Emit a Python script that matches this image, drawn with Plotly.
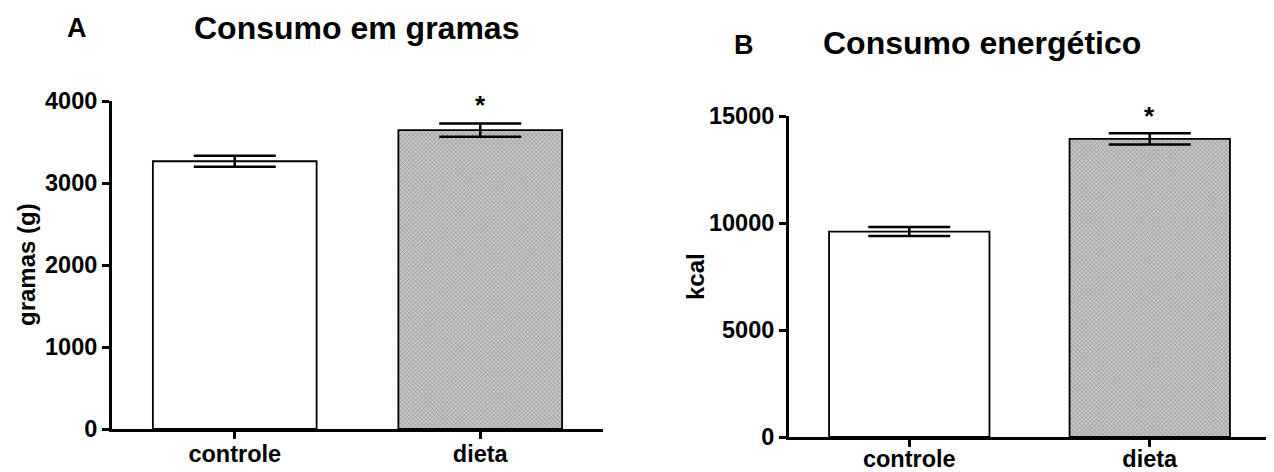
import plotly.graph_objects as go

categories = ["controle", "dieta"]
grams_mean = [3265, 3645]
grams_sem = [67, 80]
kcal_mean = [9600, 13930]
kcal_sem = [210, 260]
signif = ["", "*"]

W, H = 1274, 472
OFF = 8  # page body margin offset
FONT = "Liberation Sans, Arial, sans-serif"

fig = go.Figure()

bar_style = dict(
    marker=dict(
        color=["white", "#c6c6c6"],
        line=dict(color="black", width=1.8),
        pattern=dict(shape=["", "x"], fillmode="overlay", fgcolor="#3a3a3a",
                     fgopacity=0.5, size=3, solidity=0.3),
    ),
    width=0.667,
    showlegend=False,
)

fig.add_trace(go.Bar(
    x=categories, y=grams_mean, xaxis="x", yaxis="y",
    error_y=dict(type="data", array=grams_sem, color="black", thickness=2.5, width=41),
    **bar_style))
fig.add_trace(go.Bar(
    x=categories, y=kcal_mean, xaxis="x2", yaxis="y2",
    error_y=dict(type="data", array=kcal_sem, color="black", thickness=2.5, width=41),
    **bar_style))

def px_x(v):
    return (v - OFF) / W

def px_y(v):
    return 1 - (v - OFF) / H

axis_common = dict(
    showgrid=False, zeroline=False, showline=True, linecolor="black", linewidth=3,
    ticks="outside", tickcolor="black", tickwidth=2.5, ticklen=7, automargin=False,
    tickfont=dict(family=FONT, size=23.5, color="black", weight="bold"),
)

fig.update_layout(
    template="none",
    width=W, height=H,
    margin=dict(l=0, r=0, t=0, b=0),
    paper_bgcolor="white", plot_bgcolor="white",
    xaxis=dict(domain=[px_x(112), px_x(603)], anchor="y", range=[-0.5, 1.5],
               ticklabelstandoff=-5, **axis_common),
    yaxis=dict(domain=[px_y(429), px_y(101)], anchor="x", range=[0, 4000],
               tickvals=[0, 1000, 2000, 3000, 4000], tickformat="d",
               **axis_common),
    xaxis2=dict(domain=[px_x(789), px_x(1270)], anchor="y2", range=[-0.5, 1.5],
                ticklabelstandoff=-8, **axis_common),
    yaxis2=dict(domain=[px_y(437), px_y(116)], anchor="x2", range=[0, 15000],
                tickvals=[0, 5000, 10000, 15000], tickformat="d",
                **axis_common),
)

annotations = []
for cat, m, e, s in zip(categories, grams_mean, grams_sem, signif):
    if s:
        annotations.append(dict(x=cat, y=m + e, xref="x", yref="y", text=s, showarrow=False,
                                yanchor="bottom", yshift=2,
                                font=dict(family=FONT, size=26, color="black", weight="bold")))
for cat, m, e, s in zip(categories, kcal_mean, kcal_sem, signif):
    if s:
        annotations.append(dict(x=cat, y=m + e, xref="x2", yref="y2", text=s, showarrow=False,
                                yanchor="bottom", yshift=0,
                                font=dict(family=FONT, size=26, color="black", weight="bold")))

annotations += [
    dict(x=px_x(26), y=px_y(265), xref="paper", yref="paper", text="gramas (g)",
         showarrow=False, textangle=-90, xanchor="center", yanchor="middle",
         font=dict(family=FONT, size=24, color="black", weight="bold")),
    dict(x=px_x(695), y=px_y(277), xref="paper", yref="paper", text="kcal",
         showarrow=False, textangle=-90, xanchor="center", yanchor="middle",
         font=dict(family=FONT, size=24, color="black", weight="bold")),
    dict(x=px_x(77), y=px_y(28), xref="paper", yref="paper", text="A", showarrow=False,
         xanchor="center", yanchor="middle",
         font=dict(family=FONT, size=27, color="black", weight="bold")),
    dict(x=px_x(356), y=px_y(28), xref="paper", yref="paper", text="Consumo em gramas",
         showarrow=False, xanchor="center", yanchor="middle",
         font=dict(family=FONT, size=32, color="black", weight="bold")),
    dict(x=px_x(744), y=px_y(45), xref="paper", yref="paper", text="B", showarrow=False,
         xanchor="center", yanchor="middle",
         font=dict(family=FONT, size=27, color="black", weight="bold")),
    dict(x=px_x(982), y=px_y(43), xref="paper", yref="paper", text="Consumo energético",
         showarrow=False, xanchor="center", yanchor="middle",
         font=dict(family=FONT, size=32, color="black", weight="bold")),
]
fig.update_layout(annotations=annotations)

fig.write_html("out.html")
